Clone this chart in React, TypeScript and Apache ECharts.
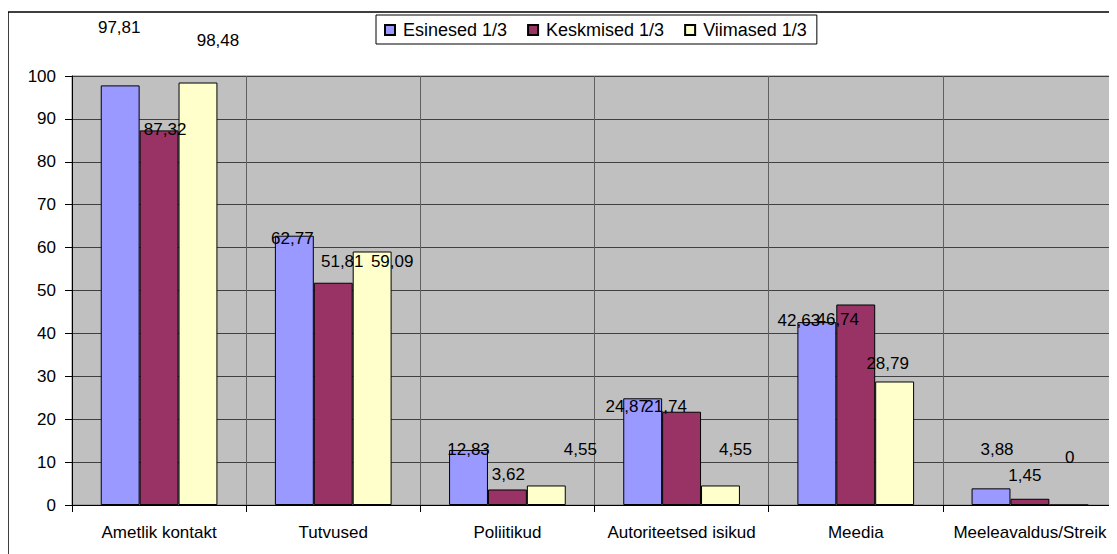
import React, { useEffect, useRef } from "react";
import * as echarts from "echarts";

const categories = [
  "Ametlik kontakt",
  "Tutvused",
  "Poliitikud",
  "Autoriteetsed isikud",
  "Meedia",
  "Meeleavaldus/Streik",
];
const seriesNames = ["Esinesed 1/3", "Keskmised 1/3", "Viimased 1/3"];
const esinesed = [97.81, 62.77, 12.83, 24.87, 42.63, 3.88];
const keskmised = [87.32, 51.81, 3.62, 21.74, 46.74, 1.45];
const viimased = [98.48, 59.09, 4.55, 4.55, 28.79, 0];
const yTicks = { min: 0, max: 100, interval: 10 };

// label nudges [dx, dy] relative to default "top" position (Excel-like placement)
const labelShift = [
  [[-1, -44], [-2, 16], [0, 13], [-16, 22], [-18, 12], [6, -25]],
  [[6, 13], [9, -8], [1, -1], [-16, 8], [-18, 29], [-5, -10]],
  [[20, -29], [20, 23], [34, -22], [15, -22], [-7, -4], [1, -34]],
];

const colors = ["#9999FF", "#993366", "#FFFFCC"];

export default function App() {
  const ref = useRef<HTMLDivElement>(null);
  useEffect(() => {
    if (!ref.current) return;
    const chart = echarts.init(ref.current, null, { renderer: "svg" });
    const all = [esinesed, keskmised, viimased];
    const font = "'Liberation Sans', Arial, sans-serif";
    chart.setOption({
      animation: false,
      textStyle: { fontFamily: font },
      graphic: [
        {
          type: "rect",
          shape: { x: 0, y: 4, width: 1200, height: 700 },
          style: { fill: "none", stroke: "#000", lineWidth: 1.5 },
          z: 0,
        },
      ],
      legend: {
        left: 368,
        top: 7,
        padding: [6, 10, 5, 8],
        itemGap: 20,
        itemWidth: 10,
        itemHeight: 10,
        borderColor: "#000",
        borderWidth: 1,
        backgroundColor: "#fff",
        textStyle: { fontSize: 18, color: "#000", fontFamily: font, padding: [0, 0, 0, 3] },
        data: seriesNames.map((n) => ({ name: n, icon: "rect" })),
      },
      grid: {
        left: 64,
        top: 68,
        width: 1050,
        height: 429,
        show: true,
        backgroundColor: "#C0C0C0",
        borderColor: "#808080",
        borderWidth: 1,
      },
      xAxis: {
        type: "category",
        data: categories,
        axisLine: { lineStyle: { color: "#000" } },
        axisTick: { show: true, interval: 0, length: 7, lineStyle: { color: "#000" } },
        axisLabel: { interval: 0, color: "#000", fontSize: 17, margin: 19, fontFamily: font },
        splitLine: { show: true, interval: 0, lineStyle: { color: "#606060", width: 1 } },
      },
      yAxis: {
        type: "value",
        min: yTicks.min,
        max: yTicks.max,
        interval: yTicks.interval,
        axisLine: { show: true, lineStyle: { color: "#000" } },
        axisTick: { show: true, length: 7, lineStyle: { color: "#000" } },
        axisLabel: { color: "#000", fontSize: 17, margin: 16, fontFamily: font },
        splitLine: { show: true, lineStyle: { color: "#404040", width: 1 } },
      },
      series: all.map((vals, si) => ({
        name: seriesNames[si],
        type: "bar",
        barGap: "0%",
        barCategoryGap: "33%",
        itemStyle: { color: colors[si], borderColor: "#000", borderWidth: 1 },
        data: vals.map((v, ci) => ({
          value: v,
          label: { offset: labelShift[si][ci] },
        })),
        label: {
          show: true,
          position: "top",
          color: "#000",
          fontSize: 17,
          fontFamily: font,
          formatter: (p: any) => String(p.value).replace(".", ","),
        },
      })),
    });
    return () => chart.dispose();
  }, []);
  return <div ref={ref} style={{ width: 1109, height: 546 }} />;
}
